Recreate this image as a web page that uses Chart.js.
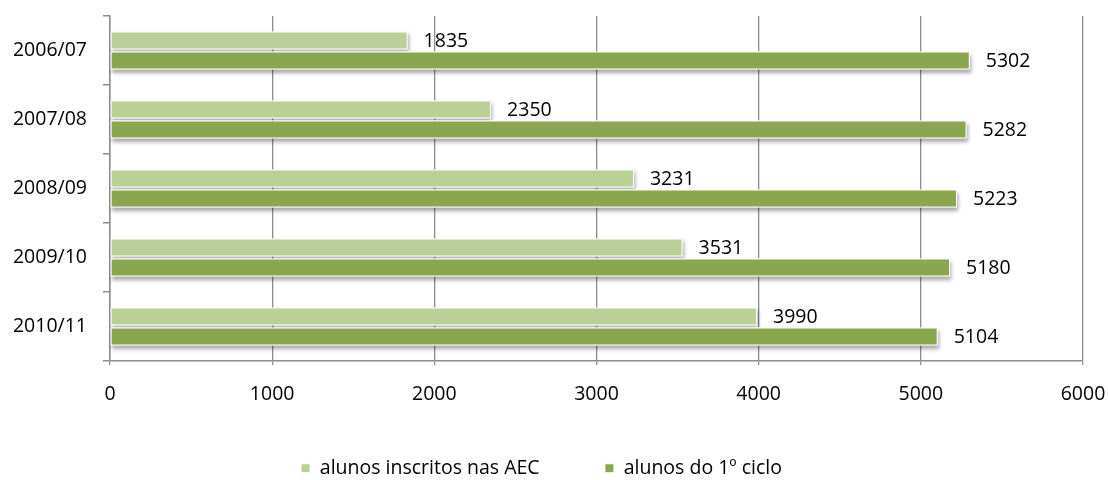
<!DOCTYPE html>
<html>
<head>
<meta charset="utf-8">
<script src="https://cdn.jsdelivr.net/npm/chart.js@4.4.1/dist/chart.umd.min.js"></script>
<style>
  html, body { margin: 0; padding: 0; background: #fff; overflow: hidden; }
  #wrap { width: 1108px; height: 488px; }
</style>
</head>
<body>
<div id="wrap"><canvas id="aecChart" width="1108" height="488"></canvas></div>
<script>
const anos = ['2006/07', '2007/08', '2008/09', '2009/10', '2010/11'];
const inscritosAEC = [1835, 2350, 3231, 3531, 3990];
const alunos1Ciclo = [5302, 5282, 5223, 5180, 5104];
const nomesSeries = ['alunos inscritos nas AEC', 'alunos do 1º ciclo'];
const coresSeries = ['#bad097', '#8aa64f'];

const fonte = { family: "'Open Sans', sans-serif", size: 19.5 };
const cinza = '#8c8c8c';

// sombra por baixo das barras
const sombraBarras = {
    id: 'sombraBarras',
    beforeDatasetsDraw(chart) {
        const ctx = chart.ctx;
        chart.getSortedVisibleDatasetMetas().forEach(meta => {
            meta.data.forEach(el => {
                const { x, y, base, height } = el.getProps(['x', 'y', 'base', 'height'], true);
                ctx.save();
                ctx.shadowColor = 'rgba(0,0,0,0.35)';
                ctx.shadowBlur = 4;
                ctx.shadowOffsetX = 1;
                ctx.shadowOffsetY = 3;
                ctx.fillStyle = '#ffffff';
                ctx.fillRect(base, y - height / 2, x - base, height);
                ctx.restore();
            });
        });
    }
};

// valores no fim das barras
const rotulosValores = {
    id: 'rotulosValores',
    afterDatasetsDraw(chart) {
        const ctx = chart.ctx;
        ctx.save();
        ctx.font = fonte.size + 'px ' + fonte.family;
        ctx.fillStyle = '#000000';
        ctx.textAlign = 'left';
        ctx.textBaseline = 'middle';
        chart.data.datasets.forEach((ds, i) => {
            chart.getDatasetMeta(i).data.forEach((el, j) => {
                ctx.fillText(String(ds.data[j]), el.x + 16, el.y + 1);
            });
        });
        ctx.restore();
    }
};

const ctx = document.getElementById('aecChart').getContext('2d');
new Chart(ctx, {
    type: 'bar',
    data: {
        labels: anos,
        datasets: [
            {
                label: nomesSeries[0],
                data: inscritosAEC,
                backgroundColor: coresSeries[0],
                borderColor: '#ffffff',
                borderWidth: 1,
                borderSkipped: false
            },
            {
                label: nomesSeries[1],
                data: alunos1Ciclo,
                backgroundColor: coresSeries[1],
                borderColor: '#ffffff',
                borderWidth: 1,
                borderSkipped: false
            }
        ]
    },
    options: {
        indexAxis: 'y',
        responsive: false,
        animation: false,
        categoryPercentage: 0.58,
        barPercentage: 0.9,
        layout: { padding: { top: 16, right: 25, left: 0, bottom: 0 } },
        plugins: {
            legend: {
                position: 'bottom',
                labels: {
                    boxWidth: 9,
                    boxHeight: 9,
                    padding: 40,
                    color: '#000000',
                    font: fonte,
                    // espaço extra entre as duas entradas da legenda
                    generateLabels(chart) {
                        const itens = Chart.defaults.plugins.legend.labels.generateLabels(chart);
                        itens[0].text = itens[0].text + '     ';
                        return itens;
                    }
                }
            },
            tooltip: { enabled: false }
        },
        scales: {
            x: {
                min: 0,
                max: 6000,
                ticks: {
                    stepSize: 1000,
                    padding: 18,
                    color: '#000000',
                    font: fonte,
                    callback: value => String(value)
                },
                grid: {
                    color: cinza,
                    lineWidth: 1.3,
                    tickLength: 4
                },
                border: { color: cinza, width: 1.5 },
                afterFit(scale) {
                    scale.height = 57.5;
                    scale.paddingLeft = 0;
                    scale.paddingRight = 0;
                }
            },
            y: {
                ticks: {
                    padding: 16,
                    color: '#000000',
                    font: fonte
                },
                grid: {
                    offset: true,
                    drawOnChartArea: false,
                    color: cinza,
                    lineWidth: 1.5,
                    tickLength: 7
                },
                border: { color: cinza, width: 1.5 },
                afterFit(scale) {
                    scale.width = 110;
                    scale.paddingTop = 0;
                    scale.paddingBottom = 0;
                }
            }
        }
    },
    plugins: [sombraBarras, rotulosValores]
});
</script>
</body>
</html>
